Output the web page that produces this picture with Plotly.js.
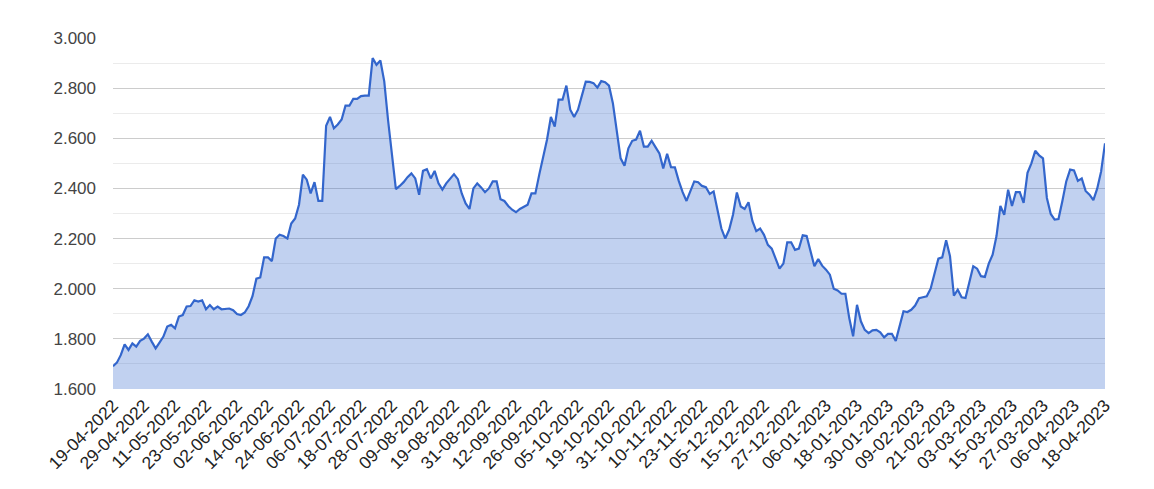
<!DOCTYPE html>
<html><head><meta charset="utf-8">
<script src="https://cdn.plot.ly/plotly-3.0.1.min.js"></script>
<style>html,body{margin:0;padding:0;background:#fff}#chart{width:1154px;height:489px}</style>
</head><body><div id="chart"></div>
<script>
// Tick labels (one every 8 trading days)
const tickLabels = ["19-04-2022","29-04-2022","11-05-2022","23-05-2022","02-06-2022","14-06-2022","24-06-2022","06-07-2022","18-07-2022","28-07-2022","09-08-2022","19-08-2022","31-08-2022","12-09-2022","26-09-2022","05-10-2022","19-10-2022","31-10-2022","10-11-2022","23-11-2022","05-12-2022","15-12-2022","27-12-2022","06-01-2023","18-01-2023","30-01-2023","09-02-2023","21-02-2023","03-03-2023","15-03-2023","27-03-2023","06-04-2023","18-04-2023"];
const labelStep = 8;

// Daily values
const values = [
1.691,1.705,1.735,1.778,1.756,1.782,1.769,1.792,1.801,1.818,
1.789,1.762,1.785,1.809,1.849,1.856,1.842,1.889,1.895,1.929,
1.931,1.954,1.949,1.954,1.918,1.935,1.918,1.929,1.918,1.918,
1.921,1.914,1.899,1.895,1.905,1.930,1.970,2.040,2.045,2.125,
2.125,2.110,2.200,2.215,2.210,2.200,2.260,2.280,2.335,2.455,
2.435,2.380,2.425,2.350,2.350,2.650,2.685,2.640,2.655,2.675,
2.730,2.730,2.757,2.757,2.768,2.770,2.770,2.920,2.893,2.910,
2.827,2.670,2.520,2.397,2.410,2.425,2.445,2.460,2.440,2.375,
2.470,2.477,2.440,2.470,2.420,2.395,2.420,2.440,2.457,2.437,
2.380,2.340,2.318,2.400,2.420,2.404,2.385,2.400,2.428,2.428,
2.357,2.350,2.330,2.315,2.305,2.318,2.328,2.335,2.380,2.380,
2.455,2.527,2.594,2.685,2.647,2.754,2.754,2.810,2.714,2.685,
2.714,2.770,2.826,2.825,2.820,2.802,2.828,2.824,2.810,2.740,
2.620,2.520,2.490,2.560,2.590,2.595,2.630,2.567,2.567,2.590,
2.565,2.540,2.480,2.538,2.485,2.484,2.430,2.385,2.350,2.390,
2.428,2.425,2.410,2.405,2.378,2.388,2.308,2.240,2.200,2.235,
2.295,2.384,2.328,2.318,2.345,2.270,2.230,2.240,2.215,2.175,
2.160,2.120,2.080,2.100,2.185,2.185,2.155,2.160,2.213,2.210,
2.155,2.090,2.118,2.092,2.076,2.056,2.000,1.993,1.980,1.980,
1.883,1.810,1.936,1.870,1.836,1.823,1.834,1.836,1.826,1.806,
1.820,1.820,1.792,1.850,1.910,1.907,1.916,1.933,1.962,1.966,
1.970,2.000,2.060,2.120,2.125,2.193,2.130,1.972,1.996,1.966,
1.963,2.027,2.090,2.080,2.050,2.047,2.100,2.136,2.210,2.330,
2.295,2.395,2.330,2.385,2.385,2.342,2.462,2.500,2.550,2.532,
2.520,2.362,2.298,2.276,2.278,2.350,2.428,2.475,2.472,2.430,
2.440,2.390,2.375,2.353,2.400,2.468,2.580
];

const xIdx = values.map((_, i) => i);
const tickVals = tickLabels.map((_, k) => k * labelStep);

const trace = {
  x: xIdx, y: values, type: 'scatter', mode: 'lines',
  fill: 'tozeroy', fillcolor: 'rgba(51,102,204,0.3)',
  line: {color: '#3366cc', width: 2.2},
  hoverinfo: 'skip'
};

const layout = {
  width: 1154, height: 489,
  margin: {l: 113, r: 49, t: 38, b: 100},
  paper_bgcolor: '#fff', plot_bgcolor: '#fff',
  showlegend: false,
  font: {family: 'Arial, "Liberation Sans", sans-serif'},
  xaxis: {
    range: [0, values.length - 1],
    tickmode: 'array', tickvals: tickVals, ticktext: tickLabels,
    tickangle: -45, showgrid: false, zeroline: false, showline: false,
    ticks: '', ticklabelstandoff: 2, tickfont: {size: 17.5, color: '#222'}
  },
  yaxis: {
    range: [1.6, 3.0], dtick: 0.2, tick0: 1.6, tickformat: '.3f',
    showgrid: true, gridcolor: '#cccccc', gridwidth: 1,
    zeroline: false, showline: false, ticks: '',
    ticklabelstandoff: 16,
    tickfont: {size: 17, color: '#444'},
    minor: {dtick: 0.1, tick0: 1.6, showgrid: true, gridcolor: '#ebebeb', gridwidth: 1}
  }
};

Plotly.newPlot('chart', [trace], layout, {displayModeBar: false, staticPlot: true});
</script></body></html>
